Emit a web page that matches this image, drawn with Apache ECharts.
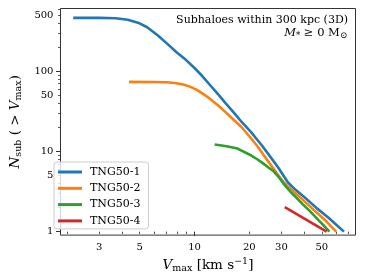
<!DOCTYPE html>
<html><head><meta charset="utf-8">
<script src="https://cdn.jsdelivr.net/npm/echarts@6/dist/echarts.min.js"></script>
<style>html,body{margin:0;padding:0;background:#fff}#c{width:365px;height:279px}</style>
</head><body><div id="c"></div>
<script>
const seriesNames = ['TNG50-1', 'TNG50-2', 'TNG50-3', 'TNG50-4'];
const seriesColors = ['#1f77b4', '#ff7f0e', '#2ca02c', '#d62728'];

const vmax1 = [2.16, 3.0, 3.7, 4.3, 4.9, 5.5, 6.3, 7.1, 8.0, 9.0, 10.0, 11.0, 12.0, 13.5, 14.76, 16.67, 18.1, 20.5, 22.1, 23.5, 25.5, 28.8, 32.6, 36, 40.6, 47, 54.4, 60, 66.1];
const nsub1 = [464, 464, 460, 440, 405, 355, 280, 220, 172, 138, 110, 88, 70, 51.5, 40.5, 29.5, 23.5, 17.3, 14.0, 11.8, 9.2, 6.3, 4.1, 3.3, 2.63, 1.95, 1.49, 1.22, 1];

const vmax2 = [4.37, 6.0, 7.0, 7.8, 8.7, 9.5, 10.25, 11.2, 12.0, 13.5, 14.76, 16.5, 18.1, 20, 22.1, 24, 27, 29.5, 31.8, 36, 40, 46, 52, 56, 59.9];
const nsub2 = [73.8, 73.5, 73, 71.5, 68.5, 64, 59, 52, 46.4, 37.5, 31.2, 24.5, 20.2, 15.5, 11.7, 9.0, 6.2, 4.7, 3.85, 3.0, 2.4, 1.8, 1.4, 1.17, 1];

const vmax3 = [12.9, 15, 17.0, 19, 20.5, 22.1, 24, 26, 27.2, 29, 30.7, 33.8, 36, 39.2, 43, 48.2, 52, 55];
const nsub3 = [12.2, 11.6, 11.0, 9.7, 8.9, 8.0, 7.0, 6.1, 5.66, 4.8, 4.0, 3.1, 2.7, 2.2, 1.8, 1.37, 1.15, 1];

const vmax4 = [31.3, 53.1];
const nsub4 = [2.02, 1];

const xTickLabels = [3, 5, 10, 20, 30, 50];
const yTickLabels = [1, 5, 10, 50, 100, 500];
const xMajorTicks = [10];
const xMinorTicks = [2, 3, 4, 5, 6, 7, 8, 9, 20, 30, 40, 50, 60, 70];
const yMajorTicks = [1, 10, 100];
const yMinorTicks = [2, 3, 4, 5, 6, 7, 8, 9, 20, 30, 40, 50, 60, 70, 80, 90, 200, 300, 400, 500, 600];
const xRange = [1.839, 76.5];
const yRange = [0.905, 608];

const L = Math.log10;
const font = 'DejaVu Serif';
const vList = [vmax1, vmax2, vmax3, vmax4];
const nList = [nsub1, nsub2, nsub3, nsub4];

const fmt = v => String(Math.round(Math.pow(10, v)));

const baseX = {
  type: 'value', min: L(xRange[0]), max: L(xRange[1]), position: 'bottom',
  splitLine: {show: false}, axisLine: {show: false}
};
const baseY = {
  type: 'value', min: L(yRange[0]), max: L(yRange[1]), position: 'left',
  splitLine: {show: false}, axisLine: {show: false}
};

const option = {
  animation: false,
  backgroundColor: '#fff',
  grid: {left: 48.5, right: 9.5, top: 8.5, bottom: 41.5, show: true, borderColor: '#333', borderWidth: 1, backgroundColor: 'transparent'},
  xAxis: [
    Object.assign({}, baseX, {
      axisTick: {show: true, customValues: xMajorTicks.map(L), length: 4.5, lineStyle: {color: '#333', width: 1}},
      axisLabel: {show: true, customValues: xTickLabels.map(L), formatter: fmt, margin: 7, fontFamily: font, fontSize: 10, color: '#000'},
      name: '{i|V}{s|max}{r| [km s}{p|\u22121}{r|]}',
      nameLocation: 'middle', nameGap: 19,
      nameTextStyle: {
        fontFamily: font, fontSize: 13, color: '#000',
        rich: {
          i: {fontFamily: font, fontStyle: 'italic', fontSize: 13.5, lineHeight: 17, color: '#000'},
          s: {fontFamily: font, fontSize: 9.5, lineHeight: 11, verticalAlign: 'bottom', color: '#000'},
          r: {fontFamily: font, fontSize: 13.5, lineHeight: 17, color: '#000'},
          p: {fontFamily: font, fontSize: 9.5, lineHeight: 11, verticalAlign: 'top', color: '#000'}
        }
      }
    }),
    Object.assign({}, baseX, {
      axisTick: {show: true, customValues: xMinorTicks.map(L), length: 2.5, lineStyle: {color: '#333', width: 0.8}},
      axisLabel: {show: false}
    })
  ],
  yAxis: [
    Object.assign({}, baseY, {
      axisTick: {show: true, customValues: yMajorTicks.map(L), length: 4.5, lineStyle: {color: '#333', width: 1}},
      axisLabel: {show: true, customValues: yTickLabels.map(L), formatter: fmt, margin: 7, fontFamily: font, fontSize: 10, color: '#000'},
      name: '{i|N}{s|sub}{r| ( > }{i|V}{s|max}{r|)}',
      nameLocation: 'middle', nameGap: 27,
      nameTextStyle: {
        fontFamily: font, fontSize: 13, color: '#000',
        rich: {
          i: {fontFamily: font, fontStyle: 'italic', fontSize: 13.5, lineHeight: 17, color: '#000'},
          s: {fontFamily: font, fontSize: 9.5, lineHeight: 11, verticalAlign: 'bottom', color: '#000'},
          r: {fontFamily: font, fontSize: 13.5, lineHeight: 17, color: '#000'}
        }
      }
    }),
    Object.assign({}, baseY, {
      axisTick: {show: true, customValues: yMinorTicks.map(L), length: 2.5, lineStyle: {color: '#333', width: 0.8}},
      axisLabel: {show: false}
    })
  ],
  legend: {
    orient: 'vertical', left: 54, top: 162, padding: [4, 8, 2, 4],
    itemWidth: 24, itemHeight: 3, itemGap: 4.3, icon: 'rect',
    backgroundColor: 'rgba(255,255,255,0.8)', borderColor: '#cccccc', borderWidth: 1, borderRadius: 3,
    textStyle: {fontFamily: font, fontSize: 11, color: '#000', lineHeight: 12, padding: [0, 0, 0, 3]},
    data: seriesNames
  },
  graphic: [
    {type: 'text', right: 17, top: 14.5, z: 100,
      style: {text: 'Subhaloes within 300 kpc (3D)', fontFamily: font, fontSize: 11, fill: '#000'}},
    {type: 'text', right: 18, top: 27.5, z: 100,
      style: {
        text: '{i|M}{s|*}{r| \u2265 0 M}{s|\u2299}',
        rich: {
          i: {fontFamily: font, fontStyle: 'italic', fontSize: 11.5, lineHeight: 14, fill: '#000'},
          r: {fontFamily: font, fontSize: 11.5, lineHeight: 14, fill: '#000'},
          s: {fontFamily: font, fontSize: 8.5, lineHeight: 9, verticalAlign: 'bottom', fill: '#000'}
        }
      }}
  ],
  series: seriesNames.map((name, k) => ({
    type: 'line', name: name, xAxisIndex: 0, yAxisIndex: 0,
    data: vList[k].map((v, j) => [L(v), L(nList[k][j])]),
    showSymbol: false, symbol: 'none',
    lineStyle: {width: 2.6, color: seriesColors[k]},
    itemStyle: {color: seriesColors[k]}
  }))
};

const chart = echarts.init(document.getElementById('c'), null, {renderer: 'canvas'});
chart.setOption(option);
</script>
</body></html>
